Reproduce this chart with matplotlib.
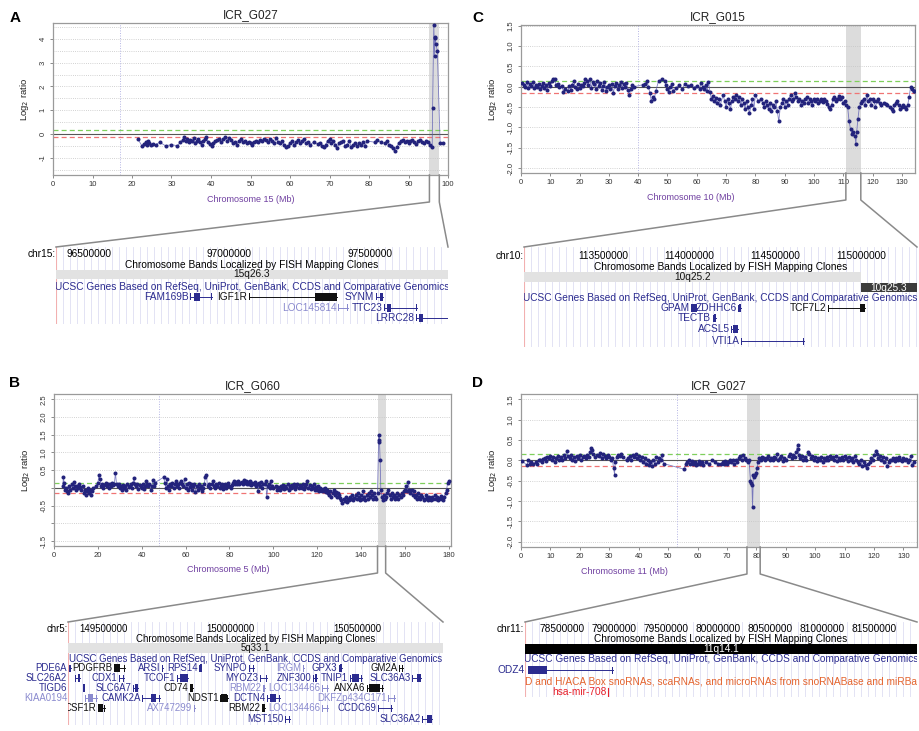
import numpy as np
import matplotlib
matplotlib.use("Agg")
import matplotlib.pyplot as plt
from matplotlib.lines import Line2D
from matplotlib.patches import Rectangle

plt.rcParams['font.family'] = ['Liberation Sans', 'DejaVu Sans']
plt.rcParams['axes.unicode_minus'] = False

# ---- array CGH probes: (position Mb, log2 ratio) ----
a_probes = [(21.5, -0.22), (22.5, -0.5), (23.0, -0.42), (23.5, -0.35), (23.8, -0.45), (24.0, -0.28),
            (24.3, -0.4), (24.7, -0.45), (25.2, -0.42), (26.0, -0.45), (27.0, -0.35), (28.5, -0.5),
            (30.0, -0.45), (31.5, -0.5), (32.2, -0.35), (32.8, -0.25), (33.2, -0.15), (33.6, -0.3),
            (34.0, -0.2), (34.4, -0.35), (34.8, -0.25), (35.2, -0.3), (35.6, -0.18), (36.0, -0.4),
            (36.4, -0.28), (36.8, -0.22), (37.2, -0.35), (37.6, -0.45), (38.0, -0.3), (38.4, -0.2),
            (38.8, -0.15), (39.3, -0.35), (39.8, -0.42), (40.2, -0.5), (40.6, -0.38), (41.0, -0.3),
            (41.5, -0.25), (42.0, -0.2), (42.5, -0.35), (43.0, -0.22), (43.5, -0.15), (44.0, -0.3),
            (44.5, -0.18), (45.0, -0.25), (45.5, -0.4), (46.0, -0.35), (46.5, -0.45), (47.0, -0.3),
            (47.5, -0.22), (48.0, -0.35), (48.5, -0.28), (49.0, -0.4), (49.5, -0.32), (50.0, -0.38),
            (50.5, -0.45), (51.0, -0.35), (51.5, -0.28), (52.0, -0.35), (52.5, -0.25), (53.0, -0.3),
            (53.5, -0.2), (54.0, -0.25), (54.5, -0.35), (55.0, -0.22), (55.5, -0.3), (56.0, -0.4),
            (56.5, -0.18), (57.0, -0.35), (57.5, -0.4), (58.0, -0.3), (58.5, -0.45), (59.0, -0.55),
            (59.5, -0.5), (60.0, -0.4), (60.5, -0.3), (61.0, -0.45), (61.5, -0.35), (62.0, -0.25),
            (62.5, -0.4), (63.0, -0.3), (63.5, -0.22), (64.0, -0.4), (64.5, -0.35), (65.0, -0.45),
            (66.0, -0.35), (67.0, -0.42), (67.5, -0.38), (68.0, -0.5), (68.5, -0.55), (69.0, -0.45),
            (69.5, -0.3), (70.0, -0.2), (70.5, -0.38), (71.0, -0.3), (71.5, -0.45), (72.0, -0.58),
            (72.5, -0.4), (73.0, -0.35), (73.5, -0.28), (74.0, -0.5), (74.5, -0.45), (75.0, -0.3),
            (75.5, -0.55), (76.0, -0.45), (76.5, -0.4), (77.0, -0.5), (77.5, -0.38), (78.0, -0.45),
            (78.5, -0.35), (79.0, -0.5), (79.5, -0.3), (81.5, -0.35), (82.0, -0.25), (83.0, -0.35),
            (84.0, -0.4), (84.5, -0.3), (85.0, -0.45), (85.5, -0.5), (86.0, -0.6), (86.5, -0.7),
            (87.0, -0.55), (87.5, -0.4), (88.0, -0.3), (88.5, -0.25), (89.0, -0.35), (89.5, -0.28),
            (90.0, -0.4), (90.5, -0.3), (91.0, -0.25), (91.5, -0.35), (92.0, -0.42), (92.5, -0.3),
            (93.0, -0.25), (93.5, -0.35), (94.0, -0.4), (94.5, -0.3), (95.0, -0.35), (95.5, -0.45),
            (96.0, -0.55), (96.1, 1.1), (96.4, 4.6), (96.6, 3.3), (96.7, 4.1), (96.8, 4.05),
            (96.9, 3.8), (97.3, 3.5), (98.0, -0.4), (98.8, -0.4)]

c_probes = [(0.5, 0.1), (1.0, 0.05), (1.5, 0.0), (2.0, 0.12), (2.5, -0.02), (3.0, 0.08), (3.5, 0.03),
            (4.0, 0.13), (4.5, -0.03), (5.0, 0.05), (5.5, 0.0), (6.0, 0.08), (6.5, -0.05), (7.0, 0.02),
            (7.5, 0.1), (8.0, -0.03), (8.5, 0.05), (9.0, -0.08), (9.5, 0.1), (10.0, 0.03), (10.5, 0.15),
            (11.0, 0.2), (11.5, 0.18), (12.0, 0.05), (12.5, 0.08), (13.0, 0.0), (14.0, 0.02),
            (14.5, -0.12), (15.0, -0.05), (16.0, -0.1), (16.5, 0.03), (17.0, -0.08), (17.5, 0.05),
            (18.0, 0.14), (18.5, 0.0), (19.0, -0.05), (19.5, 0.08), (20.0, -0.02), (20.5, 0.05),
            (21.0, 0.03), (21.5, 0.1), (22.0, 0.2), (22.5, 0.15), (23.0, 0.05), (23.5, 0.18),
            (24.0, -0.02), (24.5, 0.12), (25.0, 0.08), (25.5, -0.05), (26.0, 0.15), (26.5, 0.03),
            (27.0, 0.1), (27.5, -0.08), (28.0, 0.02), (28.5, 0.12), (29.0, -0.1), (29.5, 0.0),
            (30.0, 0.05), (30.5, -0.05), (31.0, 0.08), (31.5, -0.15), (32.0, 0.02), (32.5, 0.1),
            (33.0, -0.05), (33.5, 0.05), (34.0, 0.12), (34.5, -0.03), (35.0, 0.08), (35.5, 0.0),
            (36.0, 0.1), (36.5, -0.08), (37.0, -0.2), (37.5, -0.05), (38.0, 0.05), (38.5, 0.0),
            (41.5, 0.05), (42.5, 0.08), (43.0, 0.15), (43.5, 0.0), (44.0, -0.15), (44.5, -0.35),
            (45.0, -0.25), (45.5, -0.3), (46.0, -0.1), (47.0, 0.15), (48.0, 0.18), (49.0, 0.15),
            (49.5, 0.05), (50.0, -0.05), (50.5, -0.12), (51.0, 0.0), (51.5, 0.08), (52.0, -0.1),
            (53.0, -0.03), (54.0, 0.05), (55.0, -0.05), (56.0, 0.08), (57.0, 0.02), (58.0, 0.05),
            (59.0, -0.02), (60.0, 0.03), (61.0, -0.05), (61.5, 0.1), (62.0, 0.0), (62.5, -0.05),
            (63.0, 0.05), (63.5, -0.1), (64.0, 0.12), (64.5, -0.12), (65.0, -0.3), (65.5, -0.22),
            (66.0, -0.35), (66.5, -0.28), (67.0, -0.4), (67.5, -0.3), (68.0, -0.45), (69.0, -0.2),
            (69.5, -0.35), (70.0, -0.5), (70.5, -0.3), (71.0, -0.4), (71.5, -0.55), (72.0, -0.35),
            (72.5, -0.25), (73.0, -0.3), (73.5, -0.2), (74.0, -0.35), (74.5, -0.25), (75.0, -0.45),
            (75.5, -0.3), (76.0, -0.4), (76.5, -0.55), (77.0, -0.35), (77.5, -0.5), (78.0, -0.65),
            (78.5, -0.45), (79.0, -0.3), (79.5, -0.55), (80.0, -0.2), (81.0, -0.35), (82.0, -0.3),
            (82.5, -0.4), (83.0, -0.5), (83.5, -0.35), (84.0, -0.45), (84.5, -0.55), (85.0, -0.4),
            (85.5, -0.6), (86.0, -0.45), (86.5, -0.5), (87.0, -0.35), (87.5, -0.6), (88.0, -0.85),
            (88.5, -0.5), (89.0, -0.4), (89.5, -0.3), (90.0, -0.5), (90.5, -0.35), (91.0, -0.45),
            (91.5, -0.3), (92.0, -0.2), (92.5, -0.35), (93.0, -0.3), (93.5, -0.15), (94.0, -0.25),
            (94.5, -0.35), (95.0, -0.3), (95.5, -0.45), (96.0, -0.35), (96.5, -0.4), (97.0, -0.3),
            (97.5, -0.25), (98.0, -0.4), (98.5, -0.3), (99.0, -0.35), (99.5, -0.45), (100.0, -0.3),
            (100.5, -0.35), (101.0, -0.3), (101.5, -0.4), (102.0, -0.35), (102.5, -0.3), (103.0, -0.38),
            (103.5, -0.3), (104.0, -0.35), (104.5, -0.42), (105.0, -0.5), (105.5, -0.55), (106.0, -0.45),
            (106.5, -0.3), (107.0, -0.25), (107.5, -0.35), (108.0, -0.3), (108.5, -0.22), (109.0, -0.3),
            (109.5, -0.25), (110.0, -0.4), (110.5, -0.35), (111.0, -0.45), (111.5, -0.5), (112.0, -0.85),
            (112.5, -1.05), (113.0, -1.15), (113.5, -1.1), (114.0, -1.2), (114.3, -1.4), (114.6, -1.1),
            (115.0, -0.8), (115.5, -0.5), (116.0, -0.4), (116.5, -0.35), (117.0, -0.3), (117.5, -0.45),
            (118.0, -0.2), (118.5, -0.35), (119.0, -0.3), (119.5, -0.45), (120.0, -0.3), (120.5, -0.35),
            (121.0, -0.5), (121.5, -0.35), (122.0, -0.3), (122.5, -0.4), (123.0, -0.45), (124.0, -0.4),
            (124.5, -0.42), (125.0, -0.45), (126.0, -0.5), (126.5, -0.55), (127.0, -0.6), (127.5, -0.45),
            (128.0, -0.4), (128.5, -0.35), (129.0, -0.45), (129.5, -0.55), (130.0, -0.5), (130.5, -0.45),
            (131.0, -0.5), (131.5, -0.55), (132.0, -0.45), (132.5, -0.25), (133.0, 0.0), (133.5, -0.05),
            (134.0, -0.1), (134.3, -0.1)]

b_probes = [(4.0, 0.05), (4.3, 0.3), (4.6, 0.15), (5.0, -0.05), (5.5, 0.0), (6.0, -0.1), (6.5, -0.15),
            (7.0, 0.05), (7.5, -0.05), (8.0, 0.1), (8.5, 0.0), (9.0, 0.18), (9.5, 0.05), (10.0, -0.05),
            (10.5, 0.05), (11.0, 0.0), (11.5, 0.1), (12.0, 0.02), (12.5, -0.05), (13.0, 0.05),
            (13.5, -0.15), (14.0, -0.05), (14.5, -0.2), (15.0, -0.1), (15.5, 0.0), (16.0, -0.15),
            (16.5, -0.05), (17.0, -0.2), (17.5, -0.1), (18.0, 0.0), (19.0, 0.05), (20.0, 0.15),
            (20.5, 0.35), (21.0, 0.25), (21.5, 0.05), (22.0, 0.1), (22.5, 0.0), (23.0, 0.08),
            (23.5, 0.15), (24.0, 0.05), (24.5, 0.1), (25.0, 0.0), (25.5, 0.12), (26.0, 0.05),
            (26.5, 0.15), (27.0, 0.08), (27.5, 0.1), (28.0, 0.42), (28.5, 0.12), (29.0, 0.05),
            (29.5, 0.1), (30.0, 0.0), (30.5, 0.05), (31.0, -0.05), (31.5, 0.08), (32.0, 0.0),
            (32.5, 0.05), (33.0, -0.05), (33.5, 0.1), (34.0, 0.02), (34.5, 0.05), (35.0, 0.1),
            (35.5, 0.0), (36.0, 0.15), (36.5, 0.28), (37.0, 0.1), (37.5, 0.05), (38.0, 0.1),
            (38.5, -0.02), (39.0, 0.08), (39.5, 0.05), (40.0, 0.0), (40.5, 0.1), (41.0, -0.02),
            (41.5, 0.05), (42.0, 0.2), (42.5, 0.1), (43.0, 0.05), (43.5, 0.12), (44.0, -0.05),
            (44.5, 0.05), (45.0, 0.22), (45.5, 0.05), (46.0, 0.15), (50.0, 0.3), (50.5, 0.15),
            (51.0, 0.0), (51.5, 0.25), (52.0, 0.05), (52.5, -0.05), (53.0, 0.1), (53.5, 0.05),
            (54.0, 0.15), (54.5, 0.0), (55.0, 0.1), (55.5, 0.2), (56.0, 0.05), (56.5, 0.12),
            (57.0, 0.0), (57.5, 0.15), (58.0, 0.2), (58.5, 0.1), (59.0, 0.05), (59.5, 0.25),
            (60.0, 0.0), (60.5, 0.1), (61.0, -0.05), (61.5, 0.15), (62.0, 0.02), (62.5, 0.1),
            (63.0, -0.05), (63.5, 0.05), (64.0, 0.1), (64.5, -0.12), (65.0, 0.05), (65.5, -0.05),
            (66.0, 0.1), (66.5, 0.0), (67.0, 0.05), (67.5, -0.08), (68.0, 0.0), (68.5, 0.12),
            (69.0, 0.3), (69.5, 0.35), (70.0, 0.05), (70.5, 0.1), (71.0, 0.0), (72.0, 0.1),
            (72.5, 0.2), (73.0, 0.05), (73.5, 0.0), (74.0, 0.1), (74.5, 0.05), (75.0, 0.15),
            (75.5, 0.0), (76.0, 0.05), (76.5, 0.12), (77.0, -0.02), (77.5, 0.05), (78.0, 0.1),
            (78.5, 0.0), (79.0, 0.05), (79.5, 0.15), (80.0, 0.05), (80.5, 0.0), (81.0, 0.08),
            (81.5, 0.15), (82.0, 0.2), (82.5, 0.1), (83.0, 0.18), (83.5, 0.12), (84.0, 0.2),
            (84.5, 0.1), (85.0, 0.15), (85.5, 0.18), (86.0, 0.1), (86.5, 0.22), (87.0, 0.15),
            (87.5, 0.2), (88.0, 0.1), (88.5, 0.18), (89.0, 0.12), (89.5, 0.2), (90.0, 0.08),
            (90.5, 0.15), (91.0, 0.1), (91.5, 0.18), (92.0, 0.05), (92.5, 0.12), (93.0, -0.08),
            (93.5, 0.15), (94.0, 0.05), (94.5, 0.18), (95.0, 0.0), (95.5, 0.1), (96.0, 0.12),
            (96.5, 0.2), (97.0, -0.25), (97.5, 0.05), (98.0, 0.12), (98.5, 0.0), (99.0, 0.2),
            (99.5, 0.05), (100.0, 0.0), (101.0, 0.05), (101.5, -0.05), (102.0, 0.02), (103.0, -0.05),
            (103.5, 0.05), (104.0, 0.0), (104.5, 0.08), (105.0, -0.02), (105.5, 0.05), (106.0, 0.0),
            (106.5, 0.1), (107.0, -0.05), (107.5, 0.05), (108.0, 0.0), (108.5, 0.08), (109.0, 0.02),
            (109.5, 0.1), (110.0, -0.02), (110.5, 0.05), (111.0, 0.1), (111.5, 0.0), (112.0, 0.08),
            (112.5, 0.05), (113.0, 0.0), (113.5, 0.1), (114.0, -0.02), (114.5, 0.05), (115.0, 0.1),
            (115.5, 0.2), (116.0, 0.0), (116.5, 0.08), (117.0, -0.02), (117.5, 0.05), (118.0, 0.0),
            (118.5, 0.12), (119.0, -0.05), (119.5, 0.02), (120.0, -0.05), (120.5, 0.05), (121.0, -0.08),
            (121.5, 0.0), (122.0, -0.1), (122.5, -0.02), (123.0, -0.1), (123.5, 0.0), (124.0, -0.12),
            (124.5, -0.05), (125.0, -0.15), (125.5, -0.2), (126.0, -0.1), (126.5, -0.25), (127.0, -0.15),
            (127.5, -0.05), (128.0, -0.2), (128.5, -0.12), (129.0, -0.25), (129.5, -0.15), (130.0, -0.2),
            (130.5, -0.28), (131.0, -0.35), (131.5, -0.42), (132.0, -0.3), (132.5, -0.38), (133.0, -0.25),
            (133.5, -0.4), (134.0, -0.3), (134.5, -0.35), (135.0, -0.25), (135.5, -0.32), (136.0, -0.2),
            (136.5, -0.35), (137.0, -0.28), (137.5, -0.2), (138.0, -0.3), (138.5, -0.15), (139.0, -0.25),
            (139.5, -0.35), (140.0, -0.2), (140.5, -0.3), (141.0, -0.1), (141.5, -0.25), (142.0, -0.35),
            (142.5, -0.2), (143.0, -0.3), (143.5, -0.15), (144.0, -0.25), (144.5, -0.1), (145.0, -0.2),
            (145.5, -0.3), (146.0, -0.15), (146.5, -0.25), (147.0, -0.3), (147.5, -0.15), (148.0, 1.35),
            (148.2, 1.5), (148.4, 1.3), (148.7, 0.78), (149.0, -0.05), (149.5, -0.25), (150.0, -0.35),
            (150.5, -0.2), (151.0, -0.3), (151.5, -0.25), (152.0, -0.15), (152.5, -0.05), (153.0, -0.2),
            (153.5, -0.3), (154.0, -0.15), (154.5, -0.25), (155.0, -0.2), (155.5, -0.3), (156.0, -0.25),
            (156.5, -0.15), (157.0, -0.3), (157.5, -0.2), (158.0, -0.25), (158.5, -0.15), (159.0, -0.2),
            (159.5, -0.1), (160.0, -0.05), (160.5, 0.05), (161.0, -0.1), (161.5, 0.18), (162.0, -0.05),
            (162.5, -0.15), (163.0, -0.05), (163.5, -0.2), (164.0, -0.1), (164.5, -0.25), (165.0, -0.2),
            (165.5, -0.3), (166.0, -0.15), (166.5, -0.25), (167.0, -0.3), (167.5, -0.2), (168.0, -0.25),
            (168.5, -0.35), (169.0, -0.3), (169.5, -0.2), (170.0, -0.28), (170.5, -0.35), (171.0, -0.25),
            (171.5, -0.3), (172.0, -0.35), (172.5, -0.25), (173.0, -0.3), (173.5, -0.2), (174.0, -0.3),
            (174.5, -0.25), (175.0, -0.35), (175.5, -0.3), (176.0, -0.28), (176.5, -0.22), (177.0, -0.3),
            (177.5, -0.35), (178.0, -0.25), (178.5, -0.15), (179.0, -0.05), (179.5, 0.15), (180.0, 0.2)]

d_probes = [(0.5, -0.02), (2.0, -0.12), (2.5, 0.0), (3.0, -0.08), (3.5, -0.05), (4.0, -0.1), (5.0, -0.05),
            (5.5, -0.08), (6.0, 0.02), (6.5, 0.0), (7.0, -0.05), (7.5, 0.03), (8.0, 0.05), (8.5, -0.02),
            (9.0, 0.08), (9.5, 0.05), (10.0, 0.1), (10.5, 0.0), (11.0, 0.08), (11.5, -0.05), (12.0, 0.05),
            (12.5, 0.1), (13.0, 0.02), (13.5, 0.08), (14.0, 0.0), (14.5, 0.12), (15.0, 0.05), (15.5, 0.22),
            (16.0, 0.1), (16.5, 0.05), (17.0, 0.12), (17.5, 0.0), (18.0, 0.08), (18.5, -0.02), (19.0, 0.1),
            (19.5, 0.05), (20.0, 0.12), (20.5, 0.0), (21.0, 0.08), (21.5, 0.1), (22.0, 0.05), (22.5, 0.12),
            (23.0, 0.08), (23.5, 0.2), (23.8, 0.3), (24.0, 0.25), (24.5, 0.15), (25.0, 0.08), (26.0, 0.12),
            (26.5, 0.1), (27.0, 0.18), (27.5, 0.05), (28.0, 0.15), (28.5, 0.1), (29.0, 0.05), (29.5, 0.12),
            (30.0, 0.08), (30.5, 0.0), (31.0, 0.05), (31.5, -0.2), (31.8, -0.35), (32.0, -0.05),
            (32.5, 0.08), (33.0, 0.12), (33.5, 0.1), (34.0, 0.15), (34.5, 0.08), (36.0, 0.0), (36.5, 0.05),
            (37.0, 0.1), (37.5, 0.02), (38.0, 0.12), (38.5, 0.08), (39.0, 0.15), (39.5, 0.05), (40.0, 0.1),
            (40.5, 0.0), (41.0, 0.08), (41.5, -0.05), (42.0, 0.05), (42.5, -0.08), (43.0, 0.0),
            (43.5, -0.12), (44.0, -0.05), (44.5, -0.15), (45.0, 0.02), (45.5, -0.1), (46.0, 0.08),
            (46.5, -0.05), (47.0, 0.05), (47.5, 0.0), (48.0, 0.12), (48.5, -0.08), (55.5, -0.22),
            (56.0, -0.1), (56.5, -0.05), (57.0, 0.0), (57.5, -0.08), (58.0, -0.02), (58.5, -0.1),
            (59.0, -0.05), (59.5, -0.12), (60.0, -0.08), (60.5, -0.02), (61.0, -0.1), (61.5, -0.05),
            (62.0, -0.12), (63.0, -0.05), (64.0, -0.1), (65.0, 0.0), (66.0, -0.05), (67.0, -0.08),
            (68.0, -0.1), (68.5, -0.05), (69.0, -0.08), (69.5, -0.02), (70.0, -0.1), (70.5, -0.05),
            (71.0, 0.0), (71.5, -0.05), (72.0, 0.02), (72.5, -0.08), (73.0, 0.0), (73.5, -0.05),
            (74.0, 0.05), (74.5, 0.1), (75.0, 0.0), (75.5, 0.12), (76.0, 0.05), (76.5, 0.0), (77.0, -0.05),
            (77.5, 0.02), (78.0, -0.5), (78.2, -0.55), (78.5, -0.6), (78.7, -1.15), (79.0, -0.35),
            (79.3, -0.4), (79.6, -0.35), (79.9, -0.3), (80.2, -0.2), (80.5, -0.05), (81.0, 0.05),
            (81.5, 0.02), (82.0, 0.08), (82.5, 0.05), (83.0, 0.0), (83.5, 0.05), (84.0, 0.1), (84.5, 0.02),
            (85.0, 0.05), (85.5, 0.0), (86.0, 0.08), (86.5, 0.05), (87.0, 0.15), (87.5, 0.02), (88.0, 0.05),
            (88.5, 0.1), (89.0, -0.02), (89.5, 0.05), (90.0, 0.0), (91.0, 0.1), (91.5, 0.15), (92.0, 0.05),
            (92.5, 0.12), (93.0, 0.08), (93.5, 0.2), (94.0, 0.38), (94.3, 0.28), (94.5, 0.12), (95.0, 0.05),
            (95.5, 0.1), (96.0, 0.02), (96.5, 0.08), (97.0, 0.0), (97.5, 0.2), (98.0, 0.15), (98.5, 0.05),
            (99.0, 0.1), (99.5, 0.02), (100.0, 0.08), (100.5, -0.02), (101.0, 0.05), (101.5, 0.0),
            (102.0, 0.08), (102.5, -0.05), (103.0, 0.05), (103.5, 0.02), (104.0, 0.08), (104.5, 0.0),
            (105.0, 0.1), (105.5, 0.05), (106.0, 0.08), (106.5, 0.02), (107.0, 0.1), (107.5, -0.02),
            (108.0, 0.05), (108.5, 0.0), (109.0, 0.08), (109.5, 0.02), (110.0, 0.1), (110.5, 0.05),
            (111.0, -0.02), (111.5, 0.08), (112.0, 0.0), (112.5, 0.05), (113.0, -0.05), (113.5, 0.1),
            (114.0, 0.02), (114.5, -0.05), (115.0, -0.1), (115.5, 0.0), (116.0, -0.15), (116.5, -0.05),
            (117.0, -0.12), (117.5, -0.18), (118.0, -0.1), (118.5, -0.05), (119.0, 0.05), (119.5, 0.0),
            (120.0, 0.12), (120.5, 0.22), (121.0, 0.15), (121.5, 0.05), (122.0, 0.1), (122.5, 0.0),
            (123.0, 0.08), (123.5, -0.05), (124.0, 0.05), (124.5, -0.15), (125.0, -0.05), (125.5, 0.02),
            (126.0, 0.0), (126.5, 0.05), (127.0, -0.02), (127.5, 0.05), (128.0, 0.0), (128.5, 0.08),
            (129.0, 0.02), (129.5, -0.02), (130.0, 0.05), (130.5, 0.0), (131.0, 0.03), (131.5, -0.05),
            (132.0, 0.02), (132.5, 0.1), (133.0, -0.12), (133.5, -0.05)]

# centromere and zoomed region (Mb)
a_cen, a_region = 17, (95.3, 97.8)
c_cen, c_region = 40, (110.9, 116.0)
b_cen, b_region = 48, (147.5, 151.2)
d_cen, d_region = 53, (76.8, 81.3)

# ---- genome browser tracks: (name, start Mb, end Mb, row, colour key, label outside, exon block) ----
a_ticks = [96.5, 97.0, 97.5]
a_genes = [('FAM169B', 96.859, 96.938, 0, 'b', False, (96.875, 96.895)),
           ('IGF1R', 97.069, 97.383, 0, 'k', False, (97.304, 97.383)),
           ('SYNM', 97.521, 97.546, 0, 'b', False, (97.536, 97.546)),
           ('LOC145814', 97.386, 97.422, 1, 'l', False, None),
           ('TTC23', 97.550, 97.667, 1, 'b', False, (97.560, 97.575)),
           ('LRRC28', 97.664, 97.80, 2, 'b', False, (97.675, 97.690))]

c_ticks = [113.5, 114.0, 114.5, 115.0]
c_genes = [('GPAM', 114.010, 114.045, 0, 'b', False, (114.010, 114.045)),
           ('ZDHHC6', 114.286, 114.303, 0, 'b', False, (114.290, 114.303)),
           ('TCF7L2', 114.807, 115.024, 0, 'k', False, (114.995, 115.024)),
           ('TECTB', 114.137, 114.158, 1, 'b', False, (114.145, 114.158)),
           ('ACSL5', 114.244, 114.285, 2, 'b', False, (114.258, 114.285)),
           ('VTI1A', 114.303, 114.672, 3, 'b', False, None)]

b_ticks = [149.5, 150.0, 150.5]
b_genes = [('PDE6A', 149.364, 149.372, 0, 'b', True, None),
           ('PDGFRB', 149.543, 149.587, 0, 'k', False, (149.543, 149.565)),
           ('ARSI', 149.732, 149.737, 0, 'b', False, None),
           ('RPS14', 149.878, 149.886, 0, 'b', False, (149.880, 149.886)),
           ('SYNPO', 150.075, 150.094, 0, 'b', False, None),
           ('IRGM', 150.287, 150.291, 0, 'l', False, None),
           ('GPX3', 150.429, 150.441, 0, 'b', False, (150.432, 150.441)),
           ('GM2A', 150.665, 150.681, 0, 'k', False, None),
           ('SLC26A2', 149.390, 149.409, 1, 'b', True, (149.400, 149.409)),
           ('CDX1', 149.563, 149.583, 1, 'b', False, None),
           ('TCOF1', 149.791, 149.835, 1, 'b', False, (149.805, 149.835)),
           ('MYOZ3', 150.118, 150.146, 1, 'b', False, None),
           ('ZNF300', 150.327, 150.343, 1, 'b', False, (150.333, 150.343)),
           ('TNIP1', 150.472, 150.520, 1, 'b', False, (150.480, 150.508)),
           ('SLC36A3', 150.717, 150.752, 1, 'b', False, (150.735, 150.752)),
           ('TIGD6', 149.421, 149.425, 2, 'b', True, (149.421, 149.425)),
           ('SLC6A7', 149.618, 149.638, 2, 'b', False, (149.625, 149.638)),
           ('CD74', 149.843, 149.854, 2, 'k', False, (149.843, 149.854)),
           ('RBM22', 150.130, 150.138, 2, 'l', False, None),
           ('LOC134466', 150.362, 150.386, 2, 'l', False, None),
           ('ANXA6', 150.539, 150.602, 2, 'k', False, (150.548, 150.592)),
           ('KIAA0194', 149.429, 149.476, 3, 'l', True, (149.440, 149.462)),
           ('CAMK2A', 149.654, 149.724, 3, 'b', False, (149.690, 149.710)),
           ('NDST1', 149.961, 149.992, 3, 'k', False, (149.965, 149.990)),
           ('DCTN4', 150.146, 150.197, 3, 'b', False, (150.158, 150.180)),
           ('DKFZp434C171', 150.622, 150.650, 3, 'l', False, None),
           ('CSF1R', 149.480, 149.508, 4, 'k', False, (149.482, 149.500)),
           ('AX747299', 149.858, 149.862, 4, 'l', False, None),
           ('RBM22', 150.126, 150.138, 4, 'k', False, (150.126, 150.138)),
           ('LOC134466', 150.362, 150.386, 4, 'l', False, None),
           ('CCDC69', 150.583, 150.638, 4, 'b', False, None),
           ('MST150', 150.217, 150.236, 5, 'b', False, None),
           ('SLC36A2', 150.756, 150.795, 5, 'b', False, (150.775, 150.795))]

d_ticks = [78.5, 79.0, 79.5, 80.0, 80.5, 81.0, 81.5]
d_genes = [('ODZ4', 78.173, 78.990, 0, 'b', True, (78.173, 78.356))]
d_mirna = ('hsa-mir-708', 78.942)
d_sno_title = 'D and H/ACA Box snoRNAs, scaRNAs, and microRNAs from snoRNABase and miRBa'

GENE_COL = {'b': '#2b2b8f', 'l': '#8a8ace', 'k': '#111111'}
W, H = 920, 731
FS = 7.3

fig = plt.figure(figsize=(W / 100, H / 100), dpi=100)


def px_axes(left, top, right, bottom):
    return fig.add_axes([left / W, 1 - bottom / H, (right - left) / W, (bottom - top) / H])


def cgh_panel(rect, probes, xlim, ylim, xticks, yticks, ylabels, cen, region, title, chrom, lab_x):
    ax = px_axes(*rect)
    pos, val = zip(*probes)
    ax.set_xlim(xlim)
    ax.set_ylim(ylim)
    ax.axvspan(*region, color='#dcdcdc', lw=0, zorder=0)
    for g in np.arange(np.ceil(ylim[0] * 2) / 2, ylim[1], 0.5):
        ax.axhline(g, color='#c4c4c4', lw=0.6, ls=(0, (1, 1.6)), zorder=1)
    ax.axvline(cen, color='#b4b4e4', lw=0.7, ls=(0, (1, 1.6)), zorder=1)
    ax.axhline(0, color='#555555', lw=0.8, zorder=2)
    ax.axhline(0.15, color='#7fcf5c', lw=0.9, ls=(0, (4, 2.5)), zorder=2)
    ax.axhline(-0.15, color='#f07474', lw=0.9, ls=(0, (4, 2.5)), zorder=2)
    ax.plot(pos, val, color='#5656b0', lw=0.6, alpha=0.75, zorder=3)
    ax.plot(pos, val, 'o', ms=2.9, mew=0, color='#23237c', zorder=4)
    ax.set_xticks(xticks)
    ax.set_yticks(yticks)
    ax.set_yticklabels(ylabels, rotation=90, va='center')
    ax.tick_params(labelsize=5.5, length=2.5, width=0.6, color='#777777', labelcolor='#333333', pad=2)
    for s in ax.spines.values():
        s.set_color('#9a9a9a')
        s.set_linewidth(0.9)
    ax.set_ylabel('Log$_2$ ratio', fontsize=6.8, color='#222222', va='center')
    ax.yaxis.set_label_coords(-28 / (rect[2] - rect[0]), 0.5)
    ax.set_title(title, fontsize=8.5, pad=3.5, color='#222222')
    ax.annotate(chrom, xy=(lab_x, 0), xycoords='axes fraction', xytext=(0, -24),
                textcoords='offset pixels', ha='center', va='center', fontsize=6.5, color='#6f3fa0')
    return ax


def browser(rect, chrom, xlim, ticks, num_y, bandtxt_y, ucsc_y, fs):
    left, top, right, bottom = rect
    ax = px_axes(*rect)
    ax.set_xlim(xlim)
    ax.set_ylim(bottom - top, 0)
    ax.axis('off')
    ppx = (xlim[1] - xlim[0]) / (right - left)
    for gx in np.arange(xlim[0], xlim[1], 7 * ppx):
        ax.axvline(gx, color='#dedef2', lw=0.6, zorder=0)
    ax.axvline(xlim[0], color='#f2b0b0', lw=0.8, zorder=0)
    mid = (xlim[0] + xlim[1]) / 2
    ax.text(xlim[0] - 0.5 * ppx, num_y, chrom + ':', ha='right', va='center', fontsize=fs, clip_on=False)
    for t in ticks:
        ax.text(t, num_y, f'{round(t * 1e6)}', ha='center', va='center', fontsize=fs, clip_on=True)
    ax.text(mid, bandtxt_y, 'Chromosome Bands Localized by FISH Mapping Clones',
            ha='center', va='center', fontsize=fs, clip_on=True)
    ax.text(mid, ucsc_y, 'UCSC Genes Based on RefSeq, UniProt, GenBank, CCDS and Comparative Genomics',
            ha='center', va='center', fontsize=fs, color=GENE_COL['b'], clip_on=True)
    return ax, ppx


def band(ax, x0, x1, y0, y1, name, fc, tc, fs):
    ax.add_patch(Rectangle((x0, y0), x1 - x0, y1 - y0, fc=fc, ec='none', zorder=1))
    lo, hi = ax.get_xlim()
    ax.text((max(x0, lo) + min(x1, hi)) / 2, (y0 + y1) / 2, name, ha='center', va='center',
            fontsize=fs, color=tc, clip_on=True, zorder=2)


def draw_genes(ax, ppx, genes, rows, fs):
    lo = ax.get_xlim()[0]
    for name, s, e, r, ck, outside, blk in genes:
        col = GENE_COL[ck]
        y = rows[r]
        ax.plot([s, e], [y, y], color=col, lw=0.7, zorder=2)
        for xb in (s, e - 1.2 * ppx):
            ax.add_patch(Rectangle((xb, y - 3.5), 1.2 * ppx, 7, fc=col, ec='none', zorder=3))
        if blk is not None:
            ax.add_patch(Rectangle((blk[0], y - 4), max(blk[1] - blk[0], 2 * ppx), 8,
                                   fc=col, ec='none', zorder=3))
        lx = lo - 0.8 * ppx if outside else s - 1.5 * ppx
        ax.text(lx, y, name, ha='right', va='center', fontsize=fs, color=col,
                clip_on=not outside, zorder=4)


def connect(ax, bax, region, drop=27):
    y_bot = ax.get_ylim()[0]
    for x, corner in ((region[0], 0), (region[1], 1)):
        p0 = ax.transData.transform((x, y_bot))
        p1 = p0 - np.array([0, drop])
        p2 = bax.transAxes.transform((corner, 1))
        pts = fig.transFigure.inverted().transform(np.array([p0, p1, p2]))
        fig.add_artist(Line2D(pts[:, 0], pts[:, 1], color='#8a8a8a', lw=1.1))


# ---- top-level CGH panels ----
yt_half = np.arange(-2.0, 1.51, 0.5)
ax_a = cgh_panel((53, 23, 448, 175), a_probes, (0, 100), (-1.73, 4.67), range(0, 101, 10),
                 [-1, 0, 1, 2, 3, 4], ['-1', '0', '1', '2', '3', '4'], a_cen, a_region,
                 'ICR_G027', 'Chromosome 15 (Mb)', 0.5)
ax_c = cgh_panel((521, 25, 915, 173), c_probes, (0, 134.5), (-2.12, 1.52), range(0, 131, 10),
                 yt_half, [f'{v:.1f}' for v in yt_half], c_cen, c_region,
                 'ICR_G015', 'Chromosome 10 (Mb)', 0.43)
yt_b = np.arange(-1.5, 2.51, 0.5)
ax_b = cgh_panel((54, 394, 451, 546), b_probes, (0, 181), (-1.64, 2.65), range(0, 181, 20),
                 yt_b, ['-1.5', '', '-0.5', '', '0.5', '1.0', '1.5', '2.0', '2.5'], b_cen, b_region,
                 'ICR_G060', 'Chromosome 5 (Mb)', 0.44)
ax_d = cgh_panel((521, 394, 917, 547), d_probes, (0, 134.6), (-2.13, 1.63), range(0, 131, 10),
                 yt_half, [f'{v:.1f}' for v in yt_half], d_cen, d_region,
                 'ICR_G027', 'Chromosome 11 (Mb)', 0.26)

# ---- browser views ----
br_a, p_a = browser((56, 247, 448, 324), 'chr15', (96.383, 97.778), a_ticks, 7, 18, 40, FS)
band(br_a, 96.0, 98.0, 23, 32, '15q26.3', '#e2e2e2', '#111111', FS)
draw_genes(br_a, p_a, a_genes, [50, 61, 71], FS)

br_c, p_c = browser((524, 247, 917, 347), 'chr10', (113.037, 115.328), c_ticks, 9, 20, 51, FS)
band(br_c, 112.9, 115.0, 25, 35, '10q25.2', '#e2e2e2', '#111111', FS)
band(br_c, 115.0, 115.5, 36, 45, '10q25.3', '#3c3c3c', '#ffffff', FS)
draw_genes(br_c, p_c, c_genes, [61, 71, 82, 94], FS)

FS_B = FS * 0.955
br_b, p_b = browser((68, 622, 443, 725), 'chr5', (149.362, 150.839), b_ticks, 7, 17, 37, FS_B)
band(br_b, 149.3, 150.9, 21, 31, '5q33.1', '#e2e2e2', '#111111', FS_B)
draw_genes(br_b, p_b, b_genes, [46, 56, 66, 76, 86, 97], FS_B)

br_d, p_d = browser((525, 622, 917, 697), 'chr11', (78.144, 81.913), d_ticks, 7, 17, 37, FS)
band(br_d, 78.0, 82.0, 22, 32, '11q14.1', '#000000', '#ffffff', FS)
draw_genes(br_d, p_d, d_genes, [48], FS)
br_d.text(br_d.get_xlim()[0] + 0.3 * p_d, 60, d_sno_title,
          ha='left', va='center', fontsize=FS, color='#e4642e', clip_on=True)
br_d.plot([d_mirna[1], d_mirna[1]], [66, 74], color='#e8202a', lw=0.8)
br_d.text(d_mirna[1] - 1.5 * p_d, 70, d_mirna[0], ha='right', va='center', fontsize=FS,
          color='#e8202a', clip_on=True)

for ax, bax, reg in ((ax_a, br_a, a_region), (ax_c, br_c, c_region),
                     (ax_b, br_b, b_region), (ax_d, br_d, d_region)):
    connect(ax, bax, reg)

for letter, x, y in (('A', 15, 18), ('C', 478, 18), ('B', 15, 383), ('D', 478, 383)):
    fig.text(x / W, 1 - y / H, letter, fontsize=11, weight='bold', ha='center', va='center')

fig.savefig('out.png', dpi=100, facecolor='white')
